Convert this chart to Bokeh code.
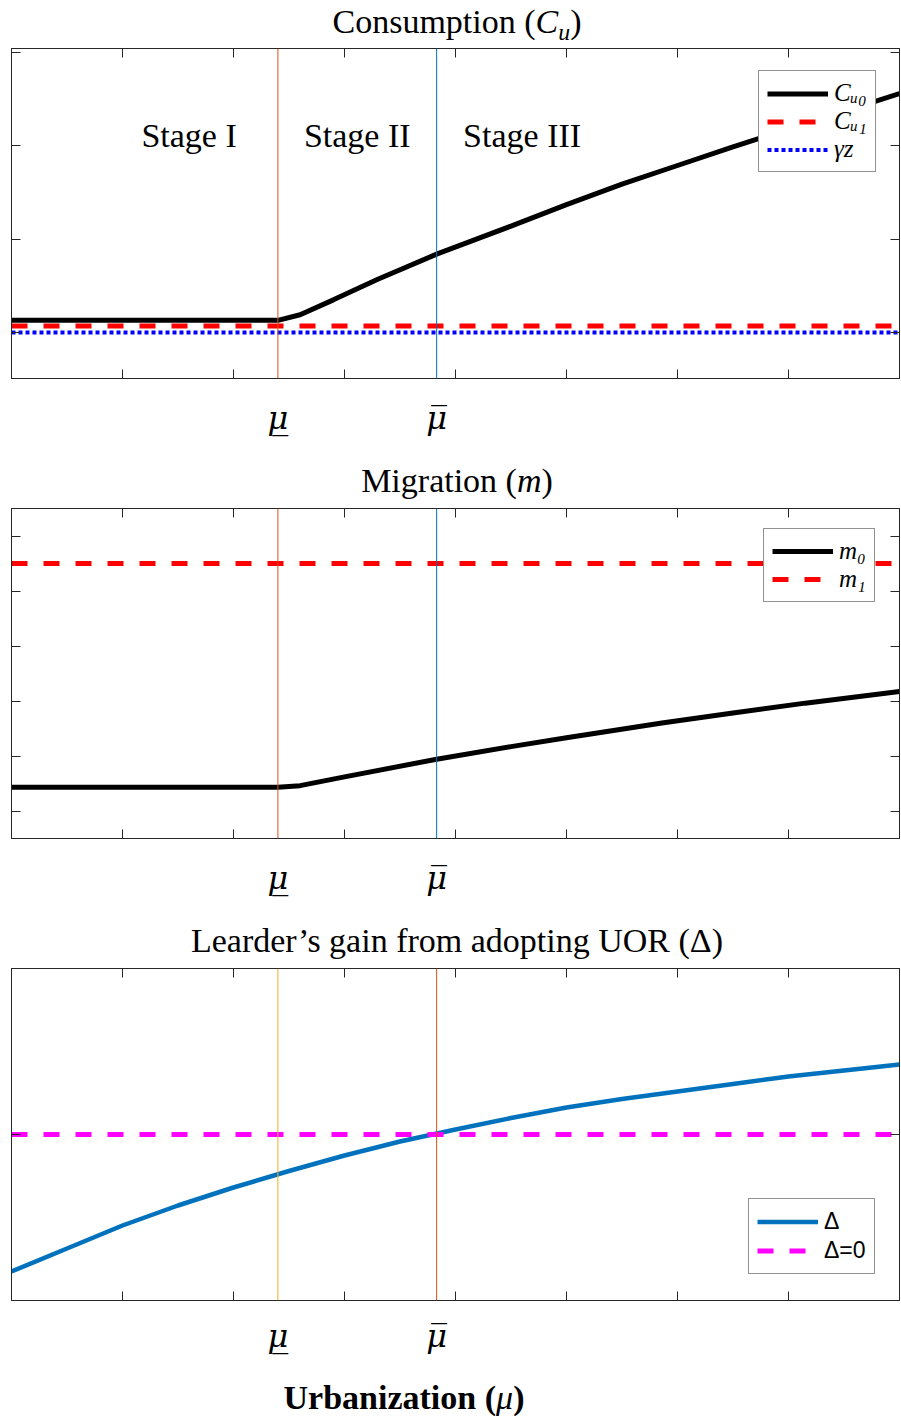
from bokeh.plotting import figure
from bokeh.models import FixedTicker, LinearAxis, Span, Label, Div, Range1d
from bokeh.layouts import column
from bokeh.embed import file_html
from bokeh.resources import INLINE

# ---------------- data ----------------
mu_ticks = [0, 1, 2, 3, 4, 5, 6, 7, 8]
mu_low = 2.4
mu_high = 3.83
mu_low_label = "\u03bc\u0332"
mu_high_label = "\u03bc\u0305"

stage_labels = ["Stage I", "Stage II", "Stage III"]

# Consumption panel
cu_mu = [0, 2.4, 2.6, 2.9, 3.3, 3.83, 4.5, 5.0, 5.5, 6.0, 6.5, 7.0, 7.5, 8.0]
cu0 = [1.13, 1.13, 1.19, 1.35, 1.57, 1.84, 2.14, 2.37, 2.59, 2.79, 2.99, 3.18, 3.37, 3.56]
cu1_level = 1.07
gz_level = 1.0
cons_yticks = [1, 2, 3, 4]

# Migration panel
m_mu = [0, 2.4, 2.6, 3.0, 3.83, 4.5, 5.0, 5.86, 6.5, 7.15, 8.0]
m0 = [1.44, 1.44, 1.47, 1.63, 1.95, 2.18, 2.34, 2.61, 2.79, 2.97, 3.18]
m1_level = 5.51
mig_yticks = [1, 2, 3, 4, 5, 6]

# Leader's gain panel
d_mu = [0, 0.5, 1, 1.5, 2, 2.5, 3, 3.5, 4, 4.5, 5, 5.5, 6, 6.5, 7, 7.5, 8]
delta = [-1.37, -1.14, -0.91, -0.71, -0.53, -0.365, -0.21, -0.07, 0.05, 0.165,
         0.27, 0.355, 0.43, 0.505, 0.58, 0.64, 0.70]
delta_zero = 0.0
gain_yticks = [0]

# ---------------- styling helpers ----------------
AX = "#262626"
W = 900
x_lo, x_hi = mu_ticks[0], mu_ticks[-1]


def tick_axis(ticks):
    return LinearAxis(ticker=FixedTicker(ticks=[], minor_ticks=ticks),
                      major_tick_in=0, major_tick_out=0,
                      minor_tick_in=9, minor_tick_out=0,
                      minor_tick_line_color=AX, axis_line_color=AX,
                      major_label_standoff=0)


def make_fig(h, y0, y1, yticks, top, bottom, standoff):
    p = figure(width=W, height=h, x_range=Range1d(x_lo, x_hi), y_range=Range1d(y0, y1),
               output_backend="svg", toolbar_location=None,
               x_axis_location=None, y_axis_location=None,
               min_border_left=11, min_border_right=1,
               min_border_top=top, min_border_bottom=bottom,
               background_fill_color="white", border_fill_color="white")
    p.xgrid.visible = False
    p.ygrid.visible = False
    p.outline_line_color = AX
    p.outline_line_width = 1

    xa = LinearAxis(ticker=FixedTicker(ticks=[mu_low, mu_high], minor_ticks=mu_ticks),
                    major_tick_in=0, major_tick_out=0,
                    minor_tick_in=9, minor_tick_out=0,
                    minor_tick_line_color=AX, axis_line_color=AX,
                    major_label_overrides={mu_low: mu_low_label, mu_high: mu_high_label},
                    major_label_text_font="DejaVu Serif",
                    major_label_text_font_style="italic",
                    major_label_text_font_size="32px",
                    major_label_text_color="black",
                    major_label_standoff=standoff)
    p.add_layout(xa, "below")
    p.add_layout(tick_axis(mu_ticks), "above")
    p.add_layout(tick_axis(yticks), "left")
    p.add_layout(tick_axis(yticks), "right")
    return p


def style_legend(p, loc, font, style, size, row_h, pad):
    lg = p.legend[0]
    lg.location = loc
    lg.label_text_font = font
    lg.label_text_font_style = style
    lg.label_text_font_size = size
    lg.label_text_color = "black"
    lg.glyph_width = 61
    lg.glyph_height = row_h
    lg.label_height = row_h
    lg.label_standoff = 6
    lg.spacing = 0
    lg.padding = pad
    lg.margin = 0
    lg.border_line_color = AX
    lg.border_line_width = 1
    lg.background_fill_color = "white"
    lg.background_fill_alpha = 1.0


def title_div(html, h, shift, bold=False, size=34):
    style = (f"width:{W}px;height:{h}px;line-height:{h}px;text-align:center;"
             f"position:relative;left:{shift}px;"
             f"font-family:'Liberation Serif';font-size:{size}px;color:#000;white-space:nowrap;")
    if bold:
        style += "font-weight:bold;"
    return Div(text=f'<div style="{style}">{html}</div>', width=W, height=h, margin=0)


SUB = 'style="font-size:0.7em;vertical-align:-0.3em;line-height:0;font-style:italic"'

# ---------------- panel 1: consumption ----------------
p1 = make_fig(417, 0.507, 4.044, cons_yticks, 4, 83, 20)
p1.line(cu_mu, cu0, line_color="black", line_width=5, legend_label="C\u1d64\u2080")
p1.line([x_lo, x_hi], [cu1_level, cu1_level], line_color="#FF0000", line_width=5,
        line_dash="16 16", legend_label="C\u1d64\u2081")
p1.line([x_lo, x_hi], [gz_level, gz_level], line_color="#0000FF", line_width=4,
        line_dash="4 3", legend_label="\u03b3z")
p1.add_layout(Span(location=mu_low, dimension="height", line_color="#D95319", line_width=1))
p1.add_layout(Span(location=mu_high, dimension="height", line_color="#0072BD", line_width=1))
stage_x = [1.6, (mu_low + mu_high) / 2, 4.6]
for sx, txt in zip(stage_x, stage_labels):
    p1.add_layout(Label(x=sx, y=3.11, text=txt, text_align="center", text_baseline="middle",
                        text_font="Liberation Serif", text_font_size="34px", text_color="black"))
style_legend(p1, (747, 206), "Liberation Serif", "italic", "25px", 27, 8)

# ---------------- panel 2: migration ----------------
p2 = make_fig(420, 0.509, 6.509, mig_yticks, 7, 83, 20)
p2.line(m_mu, m0, line_color="black", line_width=5, legend_label="m\u2080")
p2.line([x_lo, x_hi], [m1_level, m1_level], line_color="#FF0000", line_width=5,
        line_dash="16 16", legend_label="m\u2081")
p2.add_layout(Span(location=mu_low, dimension="height", line_color="#D95319", line_width=1))
p2.add_layout(Span(location=mu_high, dimension="height", line_color="#0072BD", line_width=1))
style_legend(p2, (752, 236), "Liberation Serif", "italic", "25px", 26, 8)

# ---------------- panel 3: leader's gain ----------------
p3 = make_fig(419, -1.66, 1.66, gain_yticks, 7, 80, 16)
p3.line(d_mu, delta, line_color="#0072BD", line_width=4.5, legend_label="\u0394")
p3.line([x_lo, x_hi], [delta_zero, delta_zero], line_color="#FF00FF", line_width=5,
        line_dash="16 16", legend_label="\u0394=0")
p3.add_layout(Span(location=mu_low, dimension="height", line_color="#EDB120", line_width=1))
p3.add_layout(Span(location=mu_high, dimension="height", line_color="#D95319", line_width=1))
style_legend(p3, (737, 26), "Liberation Sans", "normal", "23px", 29, 8)

# ---------------- titles ----------------
t1 = title_div(f'Consumption (<i>C</i><sub {SUB}>u</sub>)', 44, 7)
t2 = title_div('Migration (<i>m</i>)', 40, 7)
t3 = title_div('Learder\u2019s gain from adopting UOR (\u0394)', 40, 7)
t4 = title_div('Urbanization (<i style="font-weight:normal">\u03bc</i>)', 36, -46, bold=True)

layout = column(t1, p1, t2, p2, t3, p3, t4, spacing=0)

with open("out.html", "w") as f:
    f.write(file_html(layout, INLINE))
